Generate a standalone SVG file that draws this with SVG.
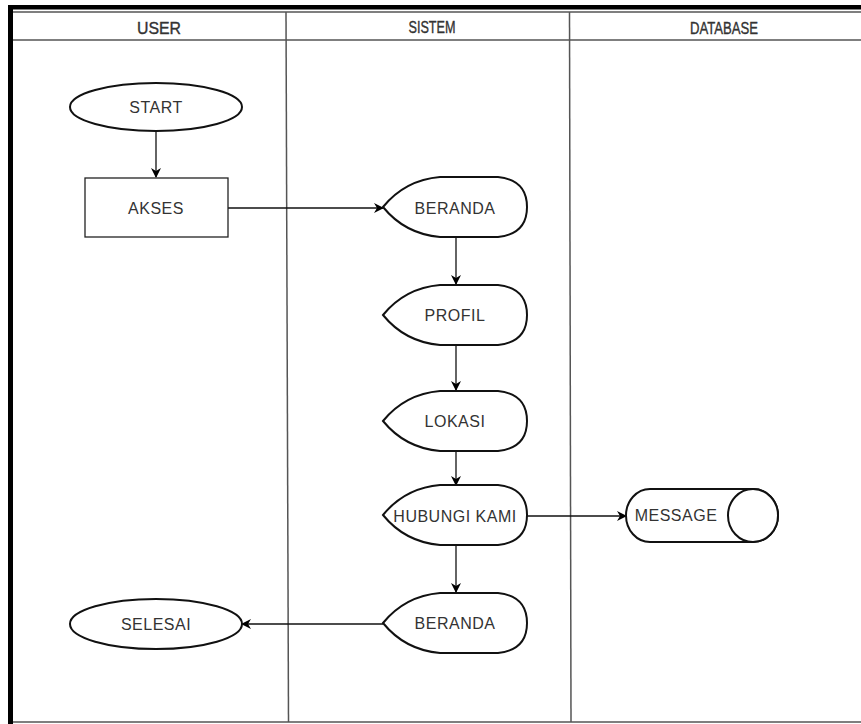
<svg xmlns="http://www.w3.org/2000/svg" width="861" height="724" viewBox="0 0 861 724">
<defs>
<marker id="arr" viewBox="0 0 10 10" refX="9" refY="5" markerWidth="10" markerHeight="10" markerUnits="userSpaceOnUse" orient="auto">
<path d="M0,0 L10,5 L0,10 L3,5 Z" fill="#000"/>
</marker>
</defs>
<style>
.lane{stroke:#555;stroke-width:1.5;fill:none}
.shape{fill:#fff;stroke:#111;stroke-width:2}
.rect{fill:#fff;stroke:#222;stroke-width:1.3}
.edge{stroke:#111;stroke-width:1.3;fill:none;marker-end:url(#arr)}
.lbl{font-family:"Liberation Sans",Arial,sans-serif;font-size:16px;fill:#333;text-anchor:middle;dominant-baseline:central;letter-spacing:0.5px}
.hdr{font-family:"Liberation Sans",Arial,sans-serif;font-size:16px;fill:#333;stroke:#333;stroke-width:0.35;text-anchor:middle;dominant-baseline:central}
</style>
<rect width="861" height="724" fill="#fff"/>
<g id="pool">
<rect x="8" y="5" width="853" height="4.5" fill="#000"/>
<rect x="8" y="5" width="5" height="719" fill="#000"/>
<line class="lane" x1="13" y1="12" x2="861" y2="12"/>
<line class="lane" x1="13" y1="40" x2="861" y2="40"/>
<line class="lane" x1="13" y1="722" x2="861" y2="722"/>
<line class="lane" x1="286" y1="12" x2="288.5" y2="722"/>
<line class="lane" x1="569.5" y1="12" x2="571" y2="722"/>
<text class="hdr" x="159" y="28" textLength="44" lengthAdjust="spacingAndGlyphs">USER</text>
<text class="hdr" x="432" y="27" textLength="47" lengthAdjust="spacingAndGlyphs">SISTEM</text>
<text class="hdr" x="724" y="28" textLength="68" lengthAdjust="spacingAndGlyphs">DATABASE</text>
</g>
<g id="connectors">
<line class="edge" x1="156" y1="131" x2="156" y2="177"/>
<line class="edge" x1="228" y1="208" x2="383" y2="208"/>
<line class="edge" x1="456" y1="237" x2="456" y2="284"/>
<line class="edge" x1="456" y1="344" x2="456" y2="390"/>
<line class="edge" x1="456" y1="451" x2="456" y2="485"/>
<line class="edge" x1="527" y1="516" x2="626" y2="516"/>
<line class="edge" x1="456" y1="545" x2="456" y2="592"/>
<line class="edge" x1="383" y1="624" x2="242" y2="624"/>
</g>
<g id="start">
<ellipse class="shape" cx="156" cy="107" rx="86" ry="24"/>
<text class="lbl" x="156" y="107">START</text>
</g>
<g id="akses">
<rect class="rect" x="85" y="178" width="143" height="59"/>
<text class="lbl" x="156" y="208">AKSES</text>
</g>
<g id="beranda1">
<path class="shape" d="M383,207 Q405,180 440,177 L498,177 Q527,180 527,207 Q527,234 498,237 L440,237 Q405,234 383,207 Z"/>
<text class="lbl" x="455" y="208">BERANDA</text>
</g>
<g id="profil">
<path class="shape" d="M383,315 Q405,288 440,285 L498,285 Q527,288 527,315 Q527,342 498,345 L440,345 Q405,342 383,315 Z"/>
<text class="lbl" x="455" y="315">PROFIL</text>
</g>
<g id="lokasi">
<path class="shape" d="M383,421 Q405,394 440,391 L498,391 Q527,394 527,421 Q527,448 498,451 L440,451 Q405,448 383,421 Z"/>
<text class="lbl" x="455" y="421">LOKASI</text>
</g>
<g id="hubungi">
<path class="shape" d="M383,515 Q405,488 440,485 L498,485 Q527,488 527,515 Q527,542 498,545 L440,545 Q405,542 383,515 Z"/>
<text class="lbl" x="455" y="516">HUBUNGI KAMI</text>
</g>
<g id="message">
<path class="shape" d="M650,489 L753,489 A25,26.5 0 0 1 753,542 L650,542 A24,26.5 0 0 1 650,489 Z"/>
<ellipse class="shape" cx="753" cy="515.5" rx="25" ry="26.5"/>
<text class="lbl" x="676" y="515">MESSAGE</text>
</g>
<g id="beranda2">
<path class="shape" d="M383,623 Q405,596 440,593 L498,593 Q527,596 527,623 Q527,650 498,653 L440,653 Q405,650 383,623 Z"/>
<text class="lbl" x="455" y="623">BERANDA</text>
</g>
<g id="selesai">
<ellipse class="shape" cx="156" cy="624" rx="86" ry="25"/>
<text class="lbl" x="156" y="624">SELESAI</text>
</g>
</svg>
